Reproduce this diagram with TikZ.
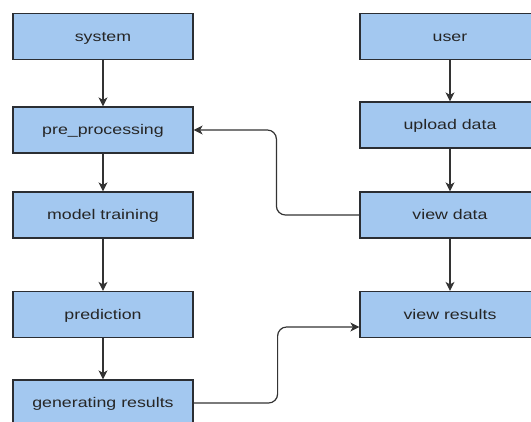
\documentclass[tikz,border=0pt]{standalone}
\usepackage{fontspec}
\setmainfont{Liberation Sans}[FakeStretch=1.27]
\usetikzlibrary{arrows.meta}
\definecolor{boxfill}{HTML}{A3C8F0}
\definecolor{boxline}{HTML}{2B2E33}
\definecolor{wire}{HTML}{333333}
\tikzset{
  stepbox/.style={draw=boxline, line width=1.2pt, fill=boxfill,
    minimum width=180pt, minimum height=46pt, inner sep=0pt,
    text height=11pt, text depth=1pt,
    font=\fontsize{14}{16}\selectfont, text=black!85},
  conn/.style={draw=wire, line width=1.2pt,
    -{Stealth[length=9pt,width=9pt,inset=2.5pt]}},
  elbowconn/.style={conn, rounded corners=9pt}
}
\begin{document}
\begin{tikzpicture}[x=1pt,y=-1pt]
\useasboundingbox (0,0) rectangle (531,422);
\clip (0,0) rectangle (531,422);
\fill[white] (0,0) rectangle (531,422);

% system side
\node[stepbox] (sys)  at (103,36.5)  {system};
\node[stepbox] (pre)  at (103,130)   {pre\_processing};
\node[stepbox] (mdl)  at (103,215)   {model training};
\node[stepbox] (pred) at (103,314.5) {prediction};
\node[stepbox] (gen)  at (103,403)   {generating results};

% user side
\node[stepbox] (usr)  at (450,36.5)  {user};
\node[stepbox] (upl)  at (450,125)   {upload data};
\node[stepbox] (vd)   at (450,215)   {view data};
\node[stepbox] (vr)   at (450,314.5) {view results};

\draw[conn] (sys) -- (pre);
\draw[conn] (pre) -- (mdl);
\draw[conn] (mdl) -- (pred);
\draw[conn] (pred) -- (gen);

\draw[conn] (usr) -- (upl);
\draw[conn] (upl) -- (vd);
\draw[conn] (vd) -- (vr);

\draw[elbowconn] (vd.west) -- ++(-83,0) |- (pre.east);
\draw[elbowconn] (gen.east) -- ++(84,0) |- ([yshift=-12.5pt]vr.west);
\end{tikzpicture}
\end{document}
